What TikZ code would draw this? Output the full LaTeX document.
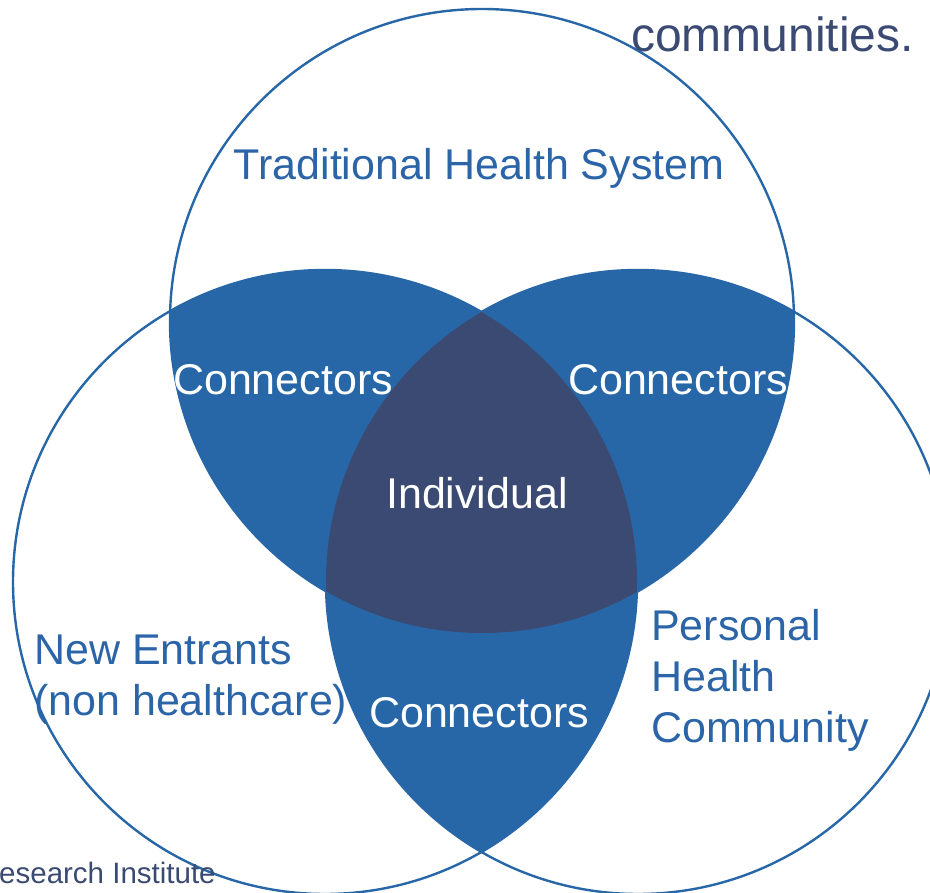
\documentclass[tikz,border=0pt]{standalone}
\usepackage{fontspec}
\setmainfont{Liberation Sans}
\definecolor{venblue}{HTML}{2867A7}
\definecolor{vendark}{HTML}{3B4A72}
\definecolor{labelblue}{HTML}{2B65A8}
\tikzset{
  ring/.style={draw=venblue, line width=2.4pt},
  lbl/.style={inner sep=0pt, text=labelblue, font=\fontsize{43}{51}\selectfont},
  whitelbl/.style={inner sep=0pt, text=white, font=\fontsize{43}{51}\selectfont},
}
\begin{document}
\begin{tikzpicture}[x=1pt,y=-1pt]
\useasboundingbox (0,0) rectangle (930,893);
% circle centres
\coordinate (ct) at (482,321);
\coordinate (cl) at (325,582);
\coordinate (cr) at (638,582);
\def\rad{312pt}
% outlines
\draw[ring] (ct) circle[radius=\rad];
\draw[ring] (cl) circle[radius=\rad];
\draw[ring] (cr) circle[radius=\rad];
% pairwise overlaps
\begin{scope}
  \clip (ct) circle[radius=\rad];
  \fill[venblue] (cl) circle[radius=\rad];
  \fill[venblue] (cr) circle[radius=\rad];
\end{scope}
\begin{scope}
  \clip (cl) circle[radius=\rad];
  \fill[venblue] (cr) circle[radius=\rad];
\end{scope}
% triple overlap
\begin{scope}
  \clip (ct) circle[radius=\rad];
  \clip (cl) circle[radius=\rad];
  \fill[vendark] (cr) circle[radius=\rad];
\end{scope}
% labels
\node[inner sep=0pt, anchor=base west, text=vendark, font=\fontsize{48}{56}\selectfont] (comm) at (631,52) {communities.};
\node[lbl, anchor=base] (ths) at (479,180) {Traditional Health System};
\node[whitelbl, anchor=base] (cl1) at (283,395) {Connectors};
\node[whitelbl, anchor=base] (cr1) at (678,395) {Connectors};
\node[whitelbl, anchor=base] (ind) at (477,508) {Individual};
\node[whitelbl, anchor=base] (cb1) at (479,727) {Connectors};
\node[lbl, anchor=base west] (ne1) at (34,664) {New Entrants};
\node[lbl, anchor=base west] (ne2) at (34,715) {(non healthcare)};
\node[lbl, anchor=base west] (ph1) at (651,640) {Personal};
\node[lbl, anchor=base west] (ph2) at (651,691) {Health};
\node[lbl, anchor=base west] (ph3) at (651,742) {Community};
\node[inner sep=0pt, anchor=base west, text=vendark, font=\fontsize{29.5}{34}\selectfont] (ri) at (-1,883) {esearch Institute};
\end{tikzpicture}
\end{document}
